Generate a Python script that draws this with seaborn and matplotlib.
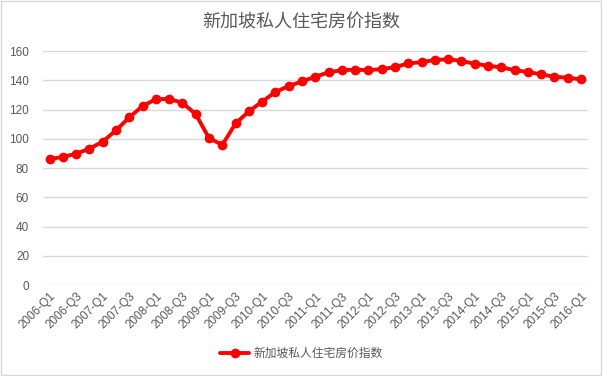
import pandas as pd
import numpy as np
import matplotlib
matplotlib.use("Agg")
import matplotlib.pyplot as plt
import seaborn as sns

# Data: Singapore private residential price index, quarterly
years = list(range(2006, 2017))
quarters = [f"{y}-Q{q}" for y in years for q in (1, 2, 3, 4)][:41]
index_values = [
    86.2, 87.6, 89.9, 93.3, 98.1, 105.9, 114.7, 122.5, 127.1, 127.3,
    124.6, 116.8, 100.4, 95.9, 110.6, 118.8, 125.5, 132.1, 136.1, 139.3,
    142.5, 145.5, 147.0, 147.3, 147.0, 147.7, 149.1, 151.6, 152.5, 153.9,
    154.5, 153.2, 151.4, 150.0, 148.9, 147.0, 145.7, 144.1, 142.5, 141.8,
    140.7,
]
series_name = "新加坡私人住宅房价指数"
y_ticks = [0, 20, 40, 60, 80, 100, 120, 140, 160]

df = pd.DataFrame({"quarter": quarters, "value": index_values})
df["pos"] = np.arange(len(df))

sns.set_style("white")
plt.rcParams["font.family"] = ["Noto Sans CJK SC", "DejaVu Sans"]

fig = plt.figure(figsize=(6.03, 3.76), dpi=100)
ax = fig.add_axes([0.0713, 0.242, 0.9033, 0.622])

sns.lineplot(data=df, x="pos", y="value", ax=ax, color="#ff0000",
             linewidth=2.8, marker="o", markersize=7, markeredgewidth=0,
             label=series_name)

ax.set_xlim(-0.5, len(df) - 0.5)
ax.set_ylim(0, 160)
ax.set_yticks(y_ticks)
ax.yaxis.grid(True, color="#d9d9d9", linewidth=1)
ax.set_axisbelow(True)
for s in ax.spines.values():
    s.set_visible(False)

tick_pos = df["pos"][::2]
ax.set_xticks(tick_pos)
ax.set_xticklabels(df["quarter"][::2], rotation=45, ha="right",
                   rotation_mode="anchor", fontsize=8.5, color="#595959",
                   family=["Liberation Sans", "DejaVu Sans"])
ax.tick_params(axis="y", labelsize=8.5, labelcolor="#595959", length=0, pad=10)
ax.tick_params(axis="x", length=0, pad=4)
for lab in ax.get_yticklabels():
    lab.set_family(["Liberation Sans", "DejaVu Sans"])
ax.set_xlabel("")
ax.set_ylabel("")

fig.suptitle(series_name, x=0.5, y=0.965, fontsize=13, color="#595959")

ax.legend(loc="center", bbox_to_anchor=(0.5, 0.06), bbox_transform=fig.transFigure,
          frameon=False, fontsize=8.5, labelcolor="#595959", handlelength=2.4,
          handletextpad=0.4)

fig.patches.append(plt.Rectangle((0.002, 0.003), 0.995, 0.994, transform=fig.transFigure,
                                 fill=False, edgecolor="#d9d9d9", linewidth=1))

fig.savefig("out.png", dpi=100, facecolor="white")
